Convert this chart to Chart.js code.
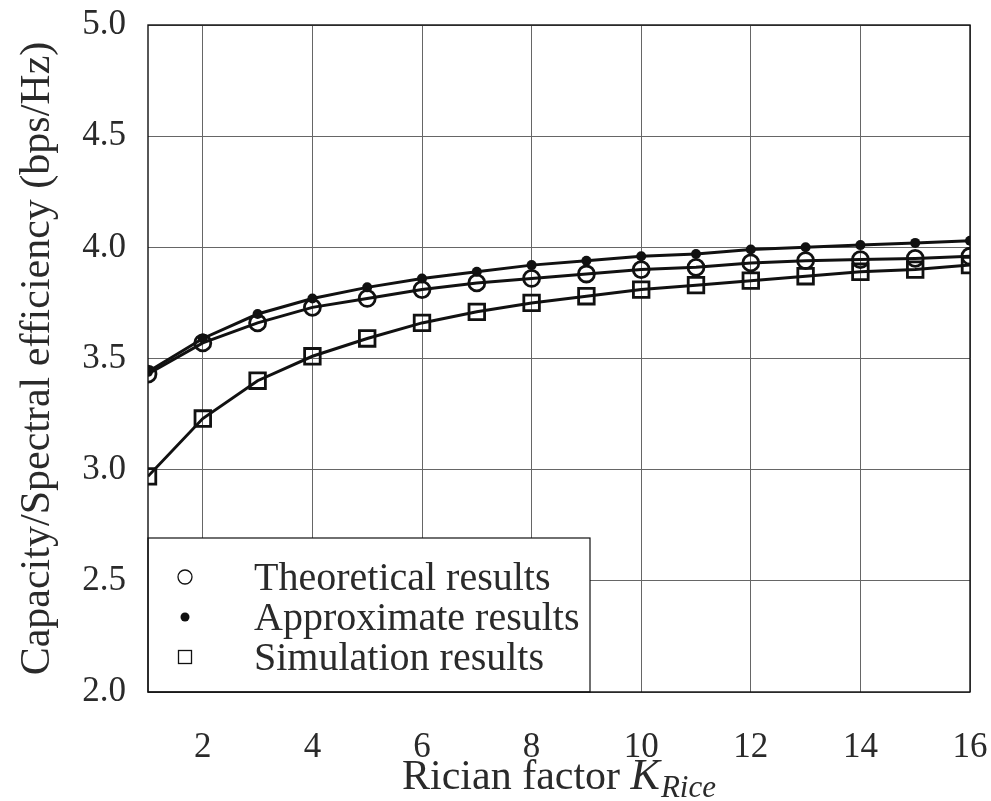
<!DOCTYPE html>
<html>
<head>
<meta charset="utf-8">
<script src="https://cdn.jsdelivr.net/npm/chart.js@4"></script>
<style>
  html, body { margin: 0; padding: 0; background: #fff; }
  #wrap { width: 991px; height: 801px; position: relative; }
</style>
</head>
<body>
<div id="wrap"><canvas id="cap-canvas"></canvas></div>
<script>
// Rician factor K and the three capacity curves (bps/Hz)
const kRice       = [1, 2, 3, 4, 5, 6, 7, 8, 9, 10, 11, 12, 13, 14, 15, 16];
const theoretical = [3.43, 3.57, 3.66, 3.73, 3.77, 3.81, 3.84, 3.86, 3.88, 3.90, 3.91, 3.93, 3.94, 3.945, 3.95, 3.96];
const approximate = [3.44, 3.59, 3.70, 3.77, 3.82, 3.86, 3.89, 3.92, 3.94, 3.96, 3.97, 3.99, 4.00, 4.01, 4.02, 4.03];
const simulation  = [2.97, 3.23, 3.40, 3.51, 3.59, 3.66, 3.71, 3.75, 3.78, 3.81, 3.83, 3.85, 3.87, 3.89, 3.90, 3.92];
const xTicks = [2, 4, 6, 8, 10, 12, 14, 16];
const yTicks = [2.0, 2.5, 3.0, 3.5, 4.0, 4.5, 5.0];

const FONT = '"Liberation Serif", "DejaVu Serif", serif';
const INK = '#111';
const TEXT = '#2a2a2a';
const GRID = '#666';

const pts = arr => kRice.map((k, i) => ({ x: k, y: arr[i] }));

// legend symbols (drawn lighter than the plot markers)
function legendMark(ctx, kind, x, y) {
    ctx.save();
    ctx.strokeStyle = INK;
    ctx.fillStyle = INK;
    ctx.lineWidth = 1.3;
    if (kind === 'circle') {
        ctx.beginPath(); ctx.arc(x, y, 7, 0, Math.PI * 2); ctx.stroke();
    } else if (kind === 'dot') {
        ctx.beginPath(); ctx.arc(x, y, 4.5, 0, Math.PI * 2); ctx.fill();
    } else {
        ctx.strokeRect(x - 6.5, y - 6.5, 13, 13);
    }
    ctx.restore();
}

const legendBox = {
    id: 'legendBox',
    afterDraw(chart) {
        const { ctx, chartArea: a } = chart;
        const left = a.left, top = 538, right = 590, bottom = a.bottom;
        ctx.save();
        ctx.fillStyle = '#fff';
        ctx.fillRect(left, top, right - left, bottom - top);
        ctx.strokeStyle = INK;
        ctx.lineWidth = 1.2;
        ctx.strokeRect(left, top, right - left, bottom - top);

        const kinds = ['circle', 'dot', 'square'];
        ctx.font = '40px ' + FONT;
        ctx.fillStyle = TEXT;
        ctx.textBaseline = 'alphabetic';
        chart.data.datasets.forEach((ds, i) => {
            const y = 577 + i * 40;
            legendMark(ctx, kinds[i], 185, y);
            ctx.fillText(ds.label, 254, y + 13);
        });

        // plot frame
        ctx.strokeStyle = INK;
        ctx.lineWidth = 1.4;
        ctx.strokeRect(a.left, a.top, a.right - a.left, a.bottom - a.top);

        // x-axis title with italic subscripted K
        const cx = (a.left + a.right) / 2;
        const y = 789;
        ctx.fillStyle = TEXT;
        const base = 'Rician factor ';
        ctx.font = '42px ' + FONT;
        const w1 = ctx.measureText(base).width;
        ctx.font = 'italic 44px ' + FONT;
        const w2 = ctx.measureText('K').width;
        ctx.font = 'italic 31px ' + FONT;
        const w3 = ctx.measureText('Rice').width;
        let x = cx - (w1 + w2 + 1 + w3) / 2;
        ctx.font = '42px ' + FONT;
        ctx.fillText(base, x, y);
        x += w1;
        ctx.font = 'italic 44px ' + FONT;
        ctx.fillText('K', x, y);
        x += w2 + 1;
        ctx.font = 'italic 31px ' + FONT;
        ctx.fillText('Rice', x, y + 8);
        ctx.restore();
    }
};

new Chart(document.getElementById('cap-canvas'), {
    type: 'line',
    data: {
        datasets: [
            {
                label: 'Theoretical results',
                data: pts(theoretical),
                borderColor: INK,
                borderWidth: 3,
                pointStyle: 'circle',
                pointRadius: 8,
                pointBorderWidth: 2.8,
                pointBorderColor: INK,
                pointBackgroundColor: 'transparent',
                tension: 0,
            },
            {
                label: 'Approximate results',
                data: pts(approximate),
                borderColor: INK,
                borderWidth: 3,
                pointStyle: 'circle',
                pointRadius: 5,
                pointBorderWidth: 0,
                pointBackgroundColor: INK,
                tension: 0,
            },
            {
                label: 'Simulation results',
                data: pts(simulation),
                borderColor: INK,
                borderWidth: 3,
                pointStyle: 'rect',
                pointRadius: 11,
                pointBorderWidth: 2.8,
                pointBorderColor: INK,
                pointBackgroundColor: 'transparent',
                tension: 0,
            }
        ]
    },
    options: {
        responsive: true,
        maintainAspectRatio: false,
        animation: false,
        layout: { padding: { top: 25, right: 21, left: 0, bottom: 0 } },
        plugins: {
            legend: { display: false },
            tooltip: { enabled: false }
        },
        scales: {
            x: {
                type: 'linear',
                min: 1,
                max: 16,
                afterFit: s => { s.height = 109; s.paddingLeft = 0; s.paddingRight = 0; },
                afterBuildTicks: s => { s.ticks = xTicks.map(v => ({ value: v })); },
                ticks: {
                    color: TEXT,
                    padding: 35,
                    maxRotation: 0,
                    font: { family: FONT, size: 35 },
                },
                grid: { color: GRID, lineWidth: 1, drawTicks: false },
                border: { display: false },
                title: { display: false }
            },
            y: {
                type: 'linear',
                min: 2,
                max: 5,
                afterFit: s => { s.width = 148; s.paddingTop = 0; s.paddingBottom = 0; },
                afterBuildTicks: s => { s.ticks = yTicks.map(v => ({ value: v })); },
                ticks: {
                    color: TEXT,
                    padding: 22,
                    font: { family: FONT, size: 35 },
                    callback: v => Number(v).toFixed(1),
                },
                grid: { color: GRID, lineWidth: 1, drawTicks: false },
                border: { display: false },
                title: {
                    display: true,
                    text: 'Capacity/Spectral efficiency (bps/Hz)',
                    color: TEXT,
                    font: { family: FONT, size: 42 },
                    padding: { top: 13, bottom: 0 }
                }
            }
        }
    },
    plugins: [legendBox]
});
</script>
</body>
</html>
